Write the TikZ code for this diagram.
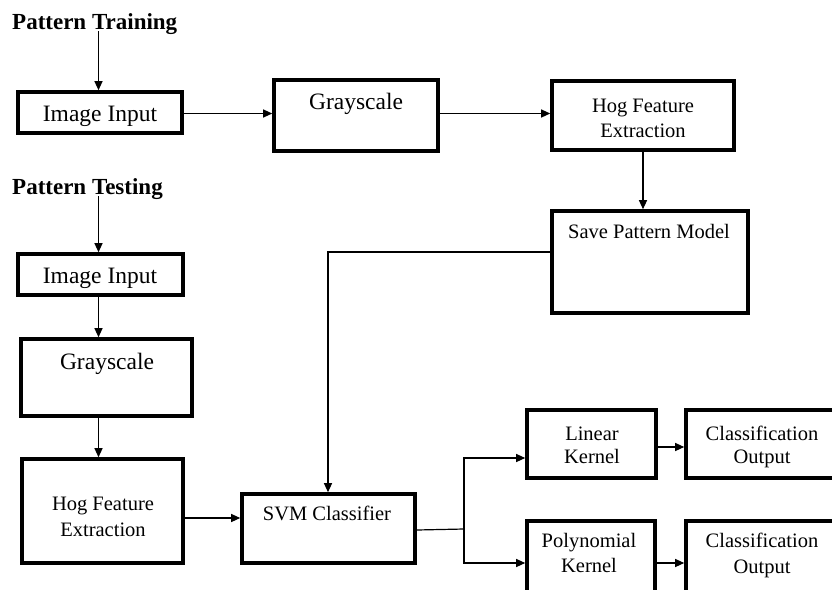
\documentclass[tikz,border=0pt]{standalone}
\usepackage{fontspec}
\setmainfont{Liberation Serif}
\usetikzlibrary{arrows.meta}
\begin{document}
\begin{tikzpicture}[x=1pt,y=-1pt,
  box/.style={draw,line width=3.6pt,inner sep=0pt,minimum width=#1},
  lbl/.style={anchor=base,inner sep=0pt,font=\fontsize{20.5}{25}\selectfont},
  big/.style={anchor=base,inner sep=0pt,font=\fontsize{23.5}{28}\selectfont},
  ttl/.style={anchor=base west,inner sep=0pt,font=\fontsize{23}{27}\selectfont\bfseries},
  arr/.style={line width=1.2pt,-{Triangle[length=9pt,width=8pt]}},
  ln/.style={line width=1.2pt}]
\useasboundingbox (0,0) rectangle (832,589);
\clip (0,0) rectangle (832,589);
% titles
\node[ttl] (t1) at (12,29) {Pattern Training};
\node[ttl] (t2) at (12,194) {Pattern Testing};
% training boxes
\node[box=164,minimum height=41] (ii1) at (100,112.5) {};
\node[big] (ii1t) at (100,121) {Image Input};
\node[box=164,minimum height=71] (g1) at (356,115.5) {};
\node[big] (g1t) at (356,109) {Grayscale};
\node[box=182,minimum height=69] (h1) at (643,115.5) {};
\node[lbl] (h1t) at (643,112) {Hog Feature};
\node[lbl] (h1u) at (643,137) {Extraction};
\node[box=196,minimum height=102] (s1) at (650,262) {};
\node[lbl] (s1t) at (649,238) {Save Pattern Model};
% testing boxes
\node[box=165,minimum height=41] (ii2) at (100.5,274.5) {};
\node[big] (ii2t) at (100,283) {Image Input};
\node[box=171,minimum height=77] (g2) at (106.5,377.5) {};
\node[big] (g2t) at (107,369) {Grayscale};
\node[box=161,minimum height=104] (h2) at (102.5,511) {};
\node[lbl] (h2t) at (103,510) {Hog Feature};
\node[lbl] (h2u) at (103,536) {Extraction};
\node[box=173,minimum height=69] (svm) at (328.5,528.5) {};
\node[lbl] (svmt) at (327,520) {SVM Classifier};
\node[box=129,minimum height=68] (lk) at (591.5,444) {};
\node[lbl] (lkt) at (592,440) {Linear};
\node[lbl] (lku) at (592,463) {Kernel};
\node[box=154,minimum height=68] (co1) at (763,444) {};
\node[lbl] (co1t) at (762,440) {Classification};
\node[lbl] (co1u) at (762,463) {Output};
\node[box=128,minimum height=79] (pk) at (591,560.5) {};
\node[lbl] (pkt) at (589,547) {Polynomial};
\node[lbl] (pku) at (589,572) {Kernel};
\node[box=154,minimum height=79] (co2) at (763,560.5) {};
\node[lbl] (co2t) at (762,547) {Classification};
\node[lbl] (co2u) at (762,573) {Output};
% helper coordinates
\coordinate (x1) at (98.5,0);
\coordinate (ya) at (0,113.5);
\coordinate (c1) at (328,252);
\coordinate (yh) at (0,518);
\coordinate (c2) at (464,529);
\coordinate (yl) at (0,458);
\coordinate (yp) at (0,563);
\coordinate (yo) at (0,447);
% connectors (training)
\draw[arr] ([yshift=3]t1.south -| x1) -- (x1 |- ii1.north);
\draw[arr] (ii1.east |- ya) -- (g1.west |- ya);
\draw[arr] (g1.east |- ya) -- (h1.west |- ya);
\draw[arr] (h1.south) -- (h1.south |- s1.north);
% connectors (testing)
\draw[arr] (s1.west |- c1) -- (c1) -- (c1 |- svm.north);
\draw[arr] ([yshift=3]t2.south -| x1) -- (x1 |- ii2.north);
\draw[arr] (x1 |- ii2.south) -- (x1 |- g2.north);
\draw[arr] (x1 |- g2.south) -- (x1 |- h2.north);
\draw[arr] (h2.east |- yh) -- (svm.west |- yh);
\draw[ln] ([yshift=-1.5]svm.east) -- (c2);
\draw[arr] (c2) |- (lk.west |- yl);
\draw[arr] (c2) |- (pk.west |- yp);
\draw[arr] (lk.east |- yo) -- (co1.west |- yo);
\draw[arr] (pk.east |- yp) -- (co2.west |- yp);
\end{tikzpicture}
\end{document}
